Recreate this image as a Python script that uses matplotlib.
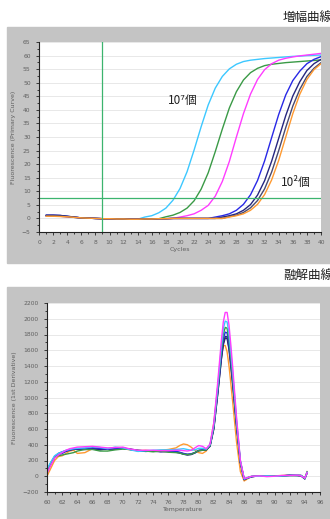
import matplotlib
matplotlib.use("Agg")
import matplotlib.pyplot as plt
from matplotlib.patches import Rectangle
from matplotlib.ticker import MultipleLocator

# ---------------- Amplification data ----------------
cycles = list(range(1, 41))

amp_cyan = [1.0, 1.0, 0.9, 0.7, 0.4, 0.2, 0.1, 0.0, -0.1, -0.1, -0.2, -0.2, -0.3, -0.3,
            0.5, 1.0, 2.1, 3.8, 6.7, 11.0, 17.2, 25.2, 33.8, 41.8, 48.0, 52.3, 55.1, 56.8,
            57.8, 58.3, 58.6, 58.9, 59.1, 59.3, 59.5, 59.7, 59.8, 60.0, 60.1, 60.2]
amp_green = [1.0, 0.9, 0.8, 0.6, 0.4, 0.2, 0.1, 0.0, -0.1, -0.1, -0.2, -0.2, -0.3, -0.3,
             -0.2, -0.2, -0.1, 0.6, 1.2, 2.2, 3.8, 6.5, 10.8, 16.8, 24.6, 32.9, 40.7, 46.7,
             51.0, 53.7, 55.3, 56.3, 56.8, 57.1, 57.4, 57.6, 57.8, 58.0, 58.2, 58.4]
amp_magenta = [0.9, 0.9, 0.8, 0.6, 0.4, 0.2, 0.1, 0.0, -0.1, -0.1, -0.2, -0.2, -0.3, -0.3,
               -0.2, -0.2, -0.1, -0.1, 0.0, 0.5, 1.0, 1.7, 3.0, 4.8, 8.2, 13.6, 21.0, 30.0,
               38.6, 45.8, 51.2, 54.8, 57.0, 58.3, 59.0, 59.5, 59.9, 60.2, 60.5, 60.8]
amp_blue = [1.2, 1.2, 1.1, 0.8, 0.5, 0.2, 0.1, 0.0, -0.1, -0.1, -0.2, -0.2, -0.3, -0.3,
            -0.2, -0.2, -0.1, -0.1, 0.0, 0.0, 0.0, 0.0, 0.0, 0.0, 0.5, 1.0, 1.7, 3.0,
            5.2, 8.7, 14.0, 21.2, 29.8, 38.3, 45.5, 50.8, 54.3, 57.0, 58.6, 59.6]
amp_navy = [1.2, 1.2, 1.1, 0.8, 0.5, 0.2, 0.1, 0.0, -0.1, -0.1, -0.2, -0.2, -0.3, -0.3,
            -0.2, -0.2, -0.1, -0.1, 0.0, 0.0, 0.0, 0.0, 0.0, 0.0, 0.0, 0.5, 1.0, 1.7,
            3.0, 5.1, 8.6, 13.9, 21.1, 29.5, 37.9, 45.1, 50.4, 54.5, 57.0, 58.6]
amp_slate = [1.0, 1.0, 0.9, 0.7, 0.4, 0.2, 0.1, 0.0, -0.1, -0.1, -0.2, -0.2, -0.3, -0.3,
             -0.2, -0.2, -0.1, -0.1, 0.0, 0.0, 0.0, 0.0, 0.0, 0.0, 0.0, 0.0, 0.7, 1.2,
             2.2, 3.9, 6.6, 10.9, 17.1, 25.0, 33.5, 41.4, 47.6, 52.3, 55.3, 57.4]
amp_orange = [0.8, 0.8, 0.7, 0.6, 0.4, 0.2, 0.1, 0.0, -0.1, -0.1, -0.2, -0.2, -0.3, -0.3,
              -0.2, -0.2, -0.1, -0.1, 0.0, 0.0, 0.0, 0.0, 0.0, 0.0, 0.0, 0.0, 0.5, 1.0,
              1.7, 3.0, 5.2, 8.8, 14.2, 21.4, 30.0, 38.6, 45.8, 51.2, 54.8, 57.0]

threshold = 7.5
start_cycle = 8.9

# ---------------- Melt data ----------------
temps = [60, 60.5, 61, 61.5, 62, 62.5, 63, 63.5, 64, 65, 66, 67, 68, 69, 70, 71, 72, 73,
         74, 75, 76, 77, 77.5, 78, 78.5, 79, 79.5, 80, 80.5, 81, 81.5, 82, 82.5, 83,
         83.25, 83.5, 83.75, 84, 84.25, 84.5, 85, 85.5, 86, 86.5, 87, 88, 89, 90, 91,
         92, 93, 93.5, 94, 94.3]

melt_magenta = [40, 140, 230, 270, 300, 330, 350, 360, 370, 375, 380, 370, 360, 365, 370, 345,
                330, 330, 330, 325, 325, 330, 330, 325, 320, 330, 360, 390, 380, 350, 410,
                680, 1180, 1730, 1960, 2080, 2080, 1920, 1660, 1370, 740, 200, -30, -15,
                0, 5, -5, 0, 10, 10, 15, 5, -25, 45]
melt_cyan = [90, 180, 260, 290, 310, 330, 340, 350, 355, 360, 375, 365, 350, 370, 360, 335,
             315, 325, 330, 335, 335, 340, 345, 350, 340, 330, 335, 355, 355, 345, 400,
             650, 1120, 1650, 1870, 1970, 1960, 1810, 1570, 1300, 710, 200, -35, -20,
             0, 0, 5, 0, 5, 10, 15, 10, -25, 50]
melt_green = [70, 170, 240, 260, 270, 280, 290, 300, 320, 340, 340, 320, 320, 335, 345, 340,
              330, 320, 310, 320, 305, 300, 295, 280, 275, 280, 300, 325, 330, 335, 390,
              630, 1090, 1590, 1800, 1890, 1880, 1730, 1500, 1240, 680, 190, -35, -15,
              0, 5, 0, 5, 5, 10, 10, 10, -30, 50]
melt_blue = [60, 160, 240, 280, 290, 320, 335, 345, 350, 350, 360, 355, 345, 355, 360, 340,
             325, 320, 325, 320, 320, 315, 305, 290, 280, 285, 300, 330, 335, 340, 390,
             630, 1070, 1550, 1740, 1830, 1820, 1680, 1450, 1200, 650, 180, -40, -20,
             -5, 5, 0, 0, 5, 15, 10, 10, -30, 50]
melt_navy = [60, 170, 250, 290, 310, 325, 335, 345, 345, 340, 345, 335, 350, 345, 355, 345,
             330, 320, 320, 310, 315, 305, 295, 280, 270, 275, 295, 325, 330, 335, 385,
             610, 1040, 1500, 1690, 1775, 1770, 1630, 1410, 1170, 640, 180, -40, -20,
             -5, 5, 0, 0, 5, 10, 10, 5, -35, 45]
melt_slate = [50, 150, 235, 275, 295, 315, 330, 340, 345, 345, 350, 340, 345, 350, 355, 340,
              325, 315, 320, 315, 315, 310, 300, 285, 275, 280, 300, 325, 330, 335, 380,
              600, 1030, 1490, 1670, 1755, 1750, 1610, 1390, 1150, 630, 170, -45, -20,
              -5, 5, 0, 0, 5, 10, 10, 5, -30, 45]
melt_orange = [0, 100, 200, 250, 260, 290, 320, 330, 290, 300, 350, 350, 340, 345, 350, 335,
               325, 330, 320, 330, 340, 360, 390, 410, 400, 370, 330, 300, 290, 320, 400,
               680, 1120, 1560, 1660, 1660, 1580, 1400, 1170, 930, 430, 60, -60, -30,
               -5, 5, 0, 5, 10, 15, 20, 10, -20, 60]

amp_series = [amp_cyan, amp_green, amp_magenta, amp_blue, amp_navy, amp_slate, amp_orange]
melt_series = [melt_orange, melt_slate, melt_navy, melt_blue, melt_green, melt_cyan, melt_magenta]
amp_colors = ['#3cc8ff', '#3a9a46', '#ff3cff', '#2828e6', '#262680', '#4a4a70', '#ff9a30']
melt_colors = ['#ff9a30', '#303050', '#262680', '#2828e6', '#3a9a46', '#3cc8ff', '#ff3cff']

W, H = 330, 519
fig = plt.figure(figsize=(W / 100, H / 100), dpi=100)
fig.patch.set_facecolor('white')

gray = '#c4c4c4'
fig.patches.append(Rectangle((7 / W, 1 - 263 / H), (W - 7) / W, (263 - 27) / H,
                             transform=fig.transFigure, color=gray, zorder=-10))
fig.patches.append(Rectangle((7 / W, 0), (W - 7) / W, (H - 287) / H,
                             transform=fig.transFigure, color=gray, zorder=-10))

jp = ['Noto Sans CJK JP', 'DejaVu Sans']
fig.text(283 / W, 1 - 17 / H, '増幅曲線', family=jp, fontsize=9, ha='left', va='center', color='#222222')
fig.text(283 / W, 1 - 275 / H, '融解曲線', family=jp, fontsize=9, ha='left', va='center', color='#222222')


def style(ax):
    ax.set_zorder(5)
    ax.set_facecolor('white')
    for s in ['top', 'right']:
        ax.spines[s].set_visible(False)
    for s in ['left', 'bottom']:
        ax.spines[s].set_color('#222222')
        ax.spines[s].set_linewidth(0.8)
    ax.tick_params(which='both', labelsize=4.3, labelcolor='#606060', color='#222222', width=0.6)
    ax.tick_params(which='major', length=2.5)
    ax.tick_params(which='minor', length=1.5)
    ax.grid(True, axis='y', color='#e8e8e8', lw=0.7)
    ax.set_axisbelow(True)


# ---------------- Top axes ----------------
ax1 = fig.add_axes([39 / W, 1 - 232 / H, 282 / W, 190 / H])
style(ax1)
for vals, c in zip(amp_series, amp_colors):
    ax1.plot(cycles, vals, color=c, lw=1.0, solid_capstyle='round')
ax1.axhline(threshold, color='#3cb46e', lw=0.9)
ax1.axvline(start_cycle, color='#3cb46e', lw=0.9)
ax1.set_xlim(0, 40)
ax1.set_ylim(-5, 65)
ax1.xaxis.set_major_locator(MultipleLocator(2))
ax1.xaxis.set_minor_locator(MultipleLocator(1))
ax1.yaxis.set_major_locator(MultipleLocator(5))
ax1.yaxis.set_minor_locator(MultipleLocator(2.5))
ax1.set_xlabel('Cycles', fontsize=4.5, color='#606060', labelpad=1)
ax1.set_ylabel('Fluorescence (Primary Curve)', fontsize=4.5, color='#606060', labelpad=4)
ax1.text(18.35, 43.6, '10⁷個', family=jp, fontsize=8.5, ha='left', va='center', color='#222222')
ax1.text(34.3, 13.2, '10²個', family=jp, fontsize=8.5, ha='left', va='center', color='#222222')

# ---------------- Bottom axes ----------------
ax2 = fig.add_axes([47 / W, 1 - 492 / H, 273 / W, 189 / H])
style(ax2)
for vals, c in zip(melt_series, melt_colors):
    ax2.plot(temps, vals, color=c, lw=1.0)
ax2.set_xlim(60, 96)
ax2.set_ylim(-200, 2200)
ax2.xaxis.set_major_locator(MultipleLocator(2))
ax2.xaxis.set_minor_locator(MultipleLocator(1))
ax2.yaxis.set_major_locator(MultipleLocator(200))
ax2.yaxis.set_minor_locator(MultipleLocator(100))
ax2.set_xlabel('Temperature', fontsize=4.5, color='#606060', labelpad=1)
ax2.set_ylabel('Fluorescence (1st Derivative)', fontsize=4.5, color='#606060', labelpad=4)

fig.savefig('out.png', dpi=100, facecolor='white')
